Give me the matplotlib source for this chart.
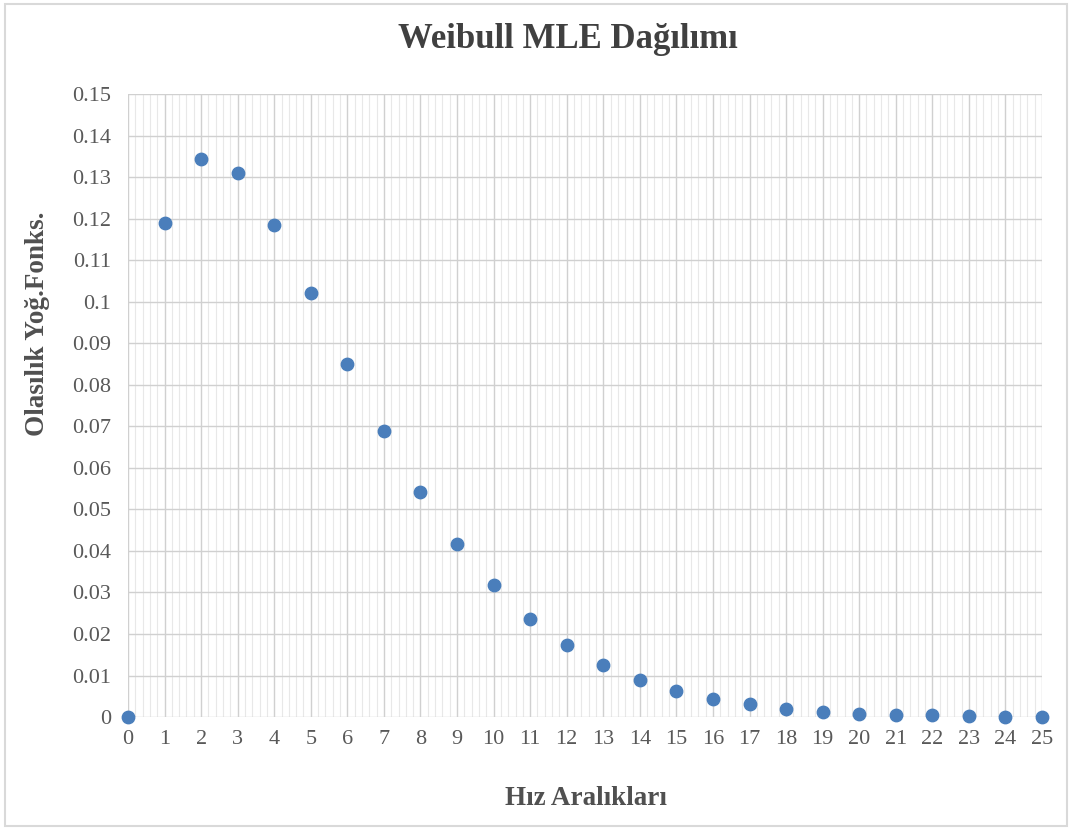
import numpy as np
import matplotlib.pyplot as plt
from matplotlib.ticker import MultipleLocator

# speed bins and weibull pdf values
hiz = list(range(26))
pdf = [0.0, 0.119, 0.1344, 0.131, 0.1185, 0.102, 0.085, 0.0689, 0.0542, 0.0417,
       0.0318, 0.0236, 0.0173, 0.0125, 0.0089, 0.0063, 0.0043, 0.0031, 0.002,
       0.0012, 0.0008, 0.0005, 0.0004, 0.0002, 0.0001, 0.0001]
y_ticks = [0, 0.01, 0.02, 0.03, 0.04, 0.05, 0.06, 0.07, 0.08, 0.09, 0.1,
           0.11, 0.12, 0.13, 0.14, 0.15]

plt.rcParams['font.family'] = ['Liberation Serif', 'DejaVu Serif']

fig = plt.figure(figsize=(10.72, 8.30), dpi=100)
ax = fig.add_axes([0.1194, 0.1361, 0.8526, 0.7506])

ax.scatter(hiz, pdf, s=80, color='#4a7ebb', zorder=3, clip_on=False)

ax.set_xlim(0, 25)
ax.set_ylim(0, 0.15)
ax.set_xticks(hiz)
ax.set_yticks(y_ticks)
ax.set_yticklabels([('%g' % v) for v in y_ticks])
ax.xaxis.set_minor_locator(MultipleLocator(0.2))

ax.grid(which='major', color='#d0d0d0', linewidth=1.0)
ax.grid(which='minor', axis='x', color='#e8e8e8', linewidth=0.8)
ax.set_axisbelow(True)
for s in ax.spines.values():
    s.set_visible(False)
ax.tick_params(which='both', length=0, colors='#595959', labelsize=16)
ax.tick_params(axis='x', pad=9)
ax.tick_params(axis='y', pad=12)

fig.text(0.53, 0.952, 'Weibull MLE Dağılımı', ha='center', va='center',
         fontsize=25, fontweight='bold', color='#404040')
fig.text(0.547, 0.0385, 'Hız Aralıkları', ha='center', va='center',
         fontsize=19.5, fontweight='bold', color='#505050')
fig.text(0.035, 0.61, 'Olasılık Yoğ.Fonks.', ha='center', va='center',
         rotation=90, fontsize=19.5, fontweight='bold', color='#505050')

# light border round the chart
fig.patches.append(plt.Rectangle((0.005, 0.005), 0.99, 0.99, transform=fig.transFigure,
                                 fill=False, edgecolor='#d9d9d9', linewidth=1.5))

fig.savefig('out.png', dpi=100)
